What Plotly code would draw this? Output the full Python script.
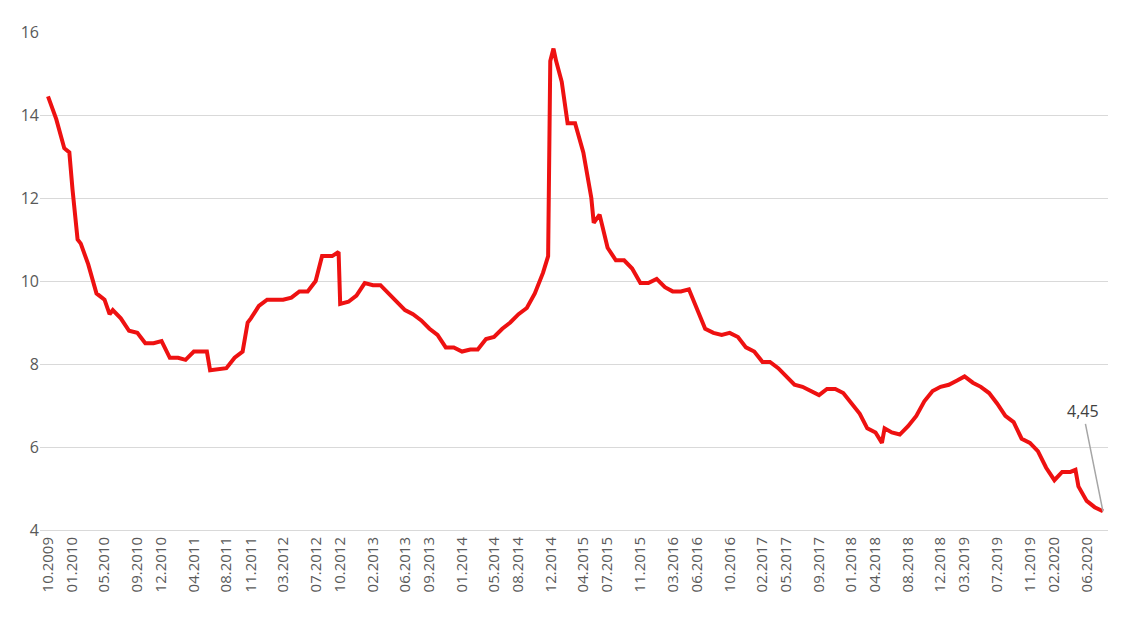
import plotly.graph_objects as go

dates = ["2009-10-01","2009-10-15","2009-11-01","2009-12-01","2009-12-20","2010-01-01","2010-01-20","2010-02-01","2010-03-01","2010-04-01","2010-05-01","2010-05-20","2010-06-01",
"2010-07-01","2010-08-01","2010-09-01","2010-10-01","2010-11-01","2010-12-01","2011-01-01","2011-02-01","2011-03-01","2011-04-01","2011-05-01","2011-05-20","2011-06-01",
"2011-07-01","2011-08-01","2011-09-01","2011-10-01","2011-10-20","2011-11-01","2011-12-01","2012-01-01","2012-02-01","2012-03-01","2012-04-01","2012-05-01","2012-06-01",
"2012-07-01","2012-07-25","2012-08-01","2012-09-01","2012-09-25","2012-10-01","2012-11-01","2012-12-01","2013-01-01","2013-02-01","2013-03-01","2013-04-01","2013-05-01",
"2013-06-01","2013-07-01","2013-08-01","2013-09-01","2013-10-01","2013-11-01","2013-12-01","2014-01-01","2014-02-01","2014-03-01","2014-04-01","2014-05-01","2014-06-01",
"2014-07-01","2014-08-01","2014-09-01","2014-10-01","2014-11-01","2014-11-20","2014-11-28","2014-12-10","2014-12-20","2015-01-10","2015-02-01","2015-03-01","2015-04-01",
"2015-05-01","2015-05-10","2015-06-01","2015-07-01","2015-08-01","2015-09-01","2015-10-01","2015-11-01","2015-12-01","2016-01-01","2016-02-01","2016-03-01","2016-04-01",
"2016-05-01","2016-06-01","2016-07-01","2016-08-01","2016-09-01","2016-10-01","2016-11-01","2016-12-01","2017-01-01","2017-02-01","2017-03-01","2017-04-01","2017-05-01",
"2017-06-01","2017-07-01","2017-08-01","2017-09-01","2017-10-01","2017-11-01","2017-12-01","2018-01-01","2018-02-01","2018-03-01","2018-04-01","2018-04-25","2018-05-05",
"2018-06-01","2018-07-01","2018-08-01","2018-09-01","2018-10-01","2018-11-01","2018-12-01","2019-01-01","2019-02-01","2019-03-01","2019-04-01","2019-05-01","2019-06-01",
"2019-07-01","2019-08-01","2019-09-01","2019-10-01","2019-11-01","2019-12-01","2020-01-01","2020-02-01","2020-03-01","2020-04-01","2020-04-20","2020-05-01","2020-06-01",
"2020-07-01","2020-08-01"]
values = [14.45,14.2,13.9,13.2,13.1,12.2,11.0,10.9,10.4,9.7,9.55,9.2,9.3,
9.1,8.8,8.75,8.5,8.5,8.55,8.15,8.15,8.1,8.3,8.3,8.3,7.85,
7.87,7.9,8.15,8.3,9.0,9.1,9.4,9.55,9.55,9.55,9.6,9.75,9.75,
10.0,10.6,10.6,10.6,10.7,9.45,9.5,9.65,9.95,9.9,9.9,9.7,9.5,
9.3,9.2,9.05,8.85,8.7,8.4,8.4,8.3,8.35,8.35,8.6,8.65,8.85,
9.0,9.2,9.35,9.7,10.2,10.6,15.3,15.6,15.3,14.8,13.8,13.8,13.1,
12.0,11.4,11.6,10.8,10.5,10.5,10.3,9.95,9.95,10.05,9.85,9.75,9.75,
9.8,9.3,8.85,8.75,8.7,8.75,8.65,8.4,8.3,8.05,8.05,7.9,7.7,
7.5,7.45,7.35,7.25,7.4,7.4,7.3,7.05,6.8,6.45,6.35,6.1,6.45,
6.35,6.3,6.5,6.75,7.1,7.35,7.45,7.5,7.6,7.7,7.55,7.45,7.3,
7.05,6.75,6.6,6.2,6.1,5.9,5.5,5.2,5.4,5.4,5.45,5.05,4.7,
4.55,4.45]
tick_dates = ["2009-10-01","2010-01-01","2010-05-01","2010-09-01","2010-12-01","2011-04-01","2011-08-01","2011-11-01","2012-03-01","2012-07-01","2012-10-01","2013-02-01",
"2013-06-01","2013-09-01","2014-01-01","2014-05-01","2014-08-01","2014-12-01","2015-04-01","2015-07-01","2015-11-01","2016-03-01","2016-06-01","2016-10-01",
"2017-02-01","2017-05-01","2017-09-01","2018-01-01","2018-04-01","2018-08-01","2018-12-01","2019-03-01","2019-07-01","2019-11-01","2020-02-01","2020-06-01"]
tick_text = [d[5:7] + "." + d[:4] for d in tick_dates]
last_label = "4,45"

fig = go.Figure(go.Scatter(x=dates, y=values, mode="lines", line=dict(color="#ee1111", width=4), hoverinfo="skip"))
fig.add_annotation(x=dates[-1], y=values[-1], text=last_label, showarrow=True, arrowhead=0, arrowwidth=1.5,
                   arrowcolor="#a6a6a6", ax=-20, ay=-100, font=dict(size=16, color="#404040"))
fig.update_layout(width=1122, height=617, margin=dict(l=32, r=22, t=24, b=95),
                  plot_bgcolor="white", paper_bgcolor="white", showlegend=False,
                  font=dict(family="Open Sans", color="#595959"))
fig.update_xaxes(type="date", range=["2009-09-01", "2020-08-20"], tickvals=tick_dates, ticktext=tick_text,
                 tickangle=-90, tickfont=dict(size=15), showgrid=False, showline=True, linecolor="#d9d9d9")
fig.update_yaxes(range=[4, 16], dtick=2, tickfont=dict(size=16), gridcolor="#d9d9d9", zeroline=False, ticklen=0)
fig.write_html("out.html")
